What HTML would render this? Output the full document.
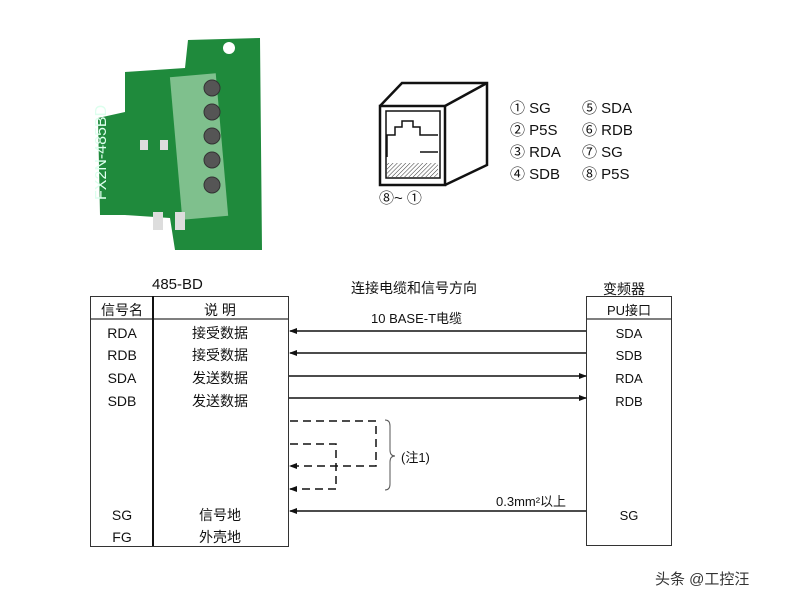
<!DOCTYPE html>
<html><head><meta charset="utf-8"><style>
body{margin:0;background:#fff;width:796px;height:607px;overflow:hidden}
svg{display:block}
text{font-family:"Liberation Sans","Noto Sans CJK SC",sans-serif;fill:#111}
</style></head><body>
<svg width="796" height="607" viewBox="0 0 796 607">
<defs><marker id="a" markerWidth="8" markerHeight="6" refX="7" refY="3" orient="auto" markerUnits="userSpaceOnUse"><path d="M0,0L8,3L0,6z" fill="#111"/></marker>
<pattern id="h" width="3" height="3" patternUnits="userSpaceOnUse" patternTransform="rotate(45)"><line x1="0" y1="0" x2="0" y2="3" stroke="#333" stroke-width="1"/></pattern></defs>
<!-- PCB -->
<path d="M125,72 L185,68 L188,40 L260,38 L262,250 L175,250 L170,218 L125,215 L100,215 L98,118 L125,112 Z" fill="#1f8a3c"/>
<circle cx="229" cy="48" r="6" fill="#fff"/>
<rect x="176" y="75" width="46" height="143" fill="#7fc08d" transform="rotate(-5 199 146)"/>
<g fill="#555" stroke="#333"><circle cx="212" cy="88" r="8"/><circle cx="212" cy="112" r="8"/><circle cx="212" cy="136" r="8"/><circle cx="212" cy="160" r="8"/><circle cx="212" cy="185" r="8"/></g>
<text x="0" y="0" transform="translate(106,200) rotate(-90)" font-size="16" style="fill:#dfe">FX2N-485BD</text>
<g fill="#ddd"><rect x="153" y="212" width="10" height="18"/><rect x="175" y="212" width="10" height="18"/><rect x="140" y="140" width="8" height="10"/><rect x="160" y="140" width="8" height="10"/></g>
<!-- RJ45 -->
<g fill="none" stroke="#111" stroke-width="2.5">
<path d="M380,106 L380,185 L445,185 L445,106 Z"/>
<path d="M380,106 L402,83 L487,83 L487,165 L445,185"/>
<path d="M445,106 L487,83"/>
</g>
<g fill="none" stroke="#111" stroke-width="1.5">
<rect x="386" y="111" width="54" height="67"/>
<path d="M387,157 L387,135 L395,135 L395,127 L402,127 L402,121 L413,121 L413,127 L420,127 L420,135 L438,135"/>
<path d="M420,152 L438,152"/>
</g>
<path d="M387,163 L438,163 L438,177 L387,177 Z" fill="url(#h)"/>
<g font-size="15"><text x="379" y="203">⑧~ ①</text>
<text x="510" y="113">① SG</text><text x="510" y="135">② P5S</text><text x="510" y="157">③ RDA</text><text x="510" y="179">④ SDB</text>
<text x="582" y="113">⑤ SDA</text><text x="582" y="135">⑥ RDB</text><text x="582" y="157">⑦ SG</text><text x="582" y="179">⑧ P5S</text></g>
<!-- left table -->
<text x="152" y="289" font-size="15">485-BD</text>
<rect x="90.5" y="296.5" width="198" height="250" fill="none" stroke="#333" stroke-width="1"/>
<line x1="90" y1="319" x2="289" y2="319" stroke="#333" stroke-width="1.2"/>
<line x1="153" y1="296" x2="153" y2="546" stroke="#111" stroke-width="2"/>
<g font-size="14" text-anchor="middle">
<text x="122" y="315">信号名</text><text x="220" y="315">说 明</text>
<text x="122" y="338">RDA</text><text x="220" y="338">接受数据</text>
<text x="122" y="360">RDB</text><text x="220" y="360">接受数据</text>
<text x="122" y="383">SDA</text><text x="220" y="383">发送数据</text>
<text x="122" y="406">SDB</text><text x="220" y="406">发送数据</text>
<text x="122" y="520">SG</text><text x="220" y="520">信号地</text>
<text x="122" y="542">FG</text><text x="220" y="542">外壳地</text>
</g>
<!-- right box -->
<text x="603" y="294" font-size="14">变频器</text>
<rect x="586.5" y="296.5" width="85" height="249" fill="none" stroke="#333"/>
<line x1="586" y1="319" x2="672" y2="319" stroke="#333" stroke-width="1.2"/>
<g font-size="13" text-anchor="middle">
<text x="629" y="315">PU接口</text>
<text x="629" y="338">SDA</text><text x="629" y="360">SDB</text><text x="629" y="383">RDA</text><text x="629" y="406">RDB</text><text x="629" y="520">SG</text>
</g>
<text x="351" y="293" font-size="14">连接电缆和信号方向</text>
<text x="371" y="323" font-size="13">10 BASE-T电缆</text>
<text x="496" y="506" font-size="13">0.3mm²以上</text>
<!-- lines -->
<g stroke="#111" stroke-width="1.5" fill="none">
<line x1="586" y1="331" x2="290" y2="331" marker-end="url(#a)"/>
<line x1="586" y1="353" x2="290" y2="353" marker-end="url(#a)"/>
<line x1="289" y1="376" x2="586" y2="376" marker-end="url(#a)"/>
<line x1="289" y1="398" x2="586" y2="398" marker-end="url(#a)"/>
<line x1="586" y1="511" x2="290" y2="511" marker-end="url(#a)"/>
<path d="M290,421 L376,421 L376,466 L290,466" stroke-dasharray="8,5" marker-end="url(#a)"/>
<path d="M290,444 L336,444 L336,489 L290,489" stroke-dasharray="8,5" marker-end="url(#a)"/>
</g>
<path d="M385,420 Q390,420 390,426 L390,450 Q390,456 395,456 Q390,456 390,462 L390,484 Q390,490 385,490" fill="none" stroke="#555" stroke-width="1"/>
<text x="401" y="462" font-size="13">(注1)</text>
<text x="655" y="584" font-size="15" style="fill:#333">头条 @工控汪</text>
</svg>
</body></html>
